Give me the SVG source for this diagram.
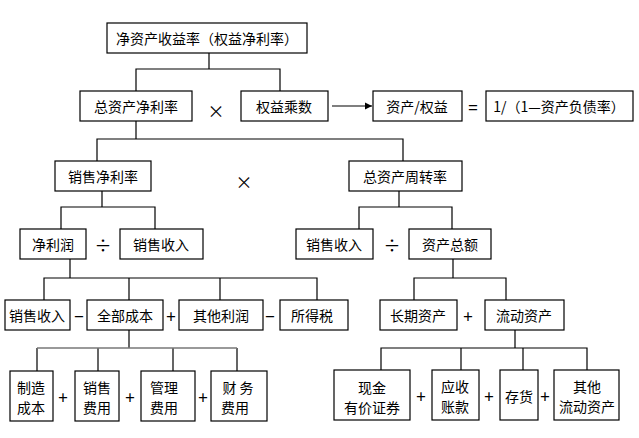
<svg xmlns="http://www.w3.org/2000/svg" width="639" height="438" viewBox="0 0 639 438">
<style>
rect{fill:#fff;stroke:#000;stroke-width:1.2}
text{font-family:"Noto Sans CJK SC","Liberation Sans",sans-serif;font-size:14px;fill:#000;text-anchor:middle;dominant-baseline:central}
.op{font-size:17px}
#c path{fill:none;stroke:#000;stroke-width:1.2}
</style>
<defs><marker id="a" viewBox="0 0 10 10" refX="10" refY="5" markerWidth="6" markerHeight="6" orient="auto"><path d="M0,0L10,5L0,10z"/></marker></defs>
<rect x="0" y="0" width="639" height="438" style="fill:#fff;stroke:none"/>
<g id="c">
<path d="M209 53V69M136 91V69H280V91"/>
<path d="M332 106H372" marker-end="url(#a)"/>
<path d="M136 121V139M97 161V139H403V161"/>
<path d="M102 191V207M61 229V207H155V229"/>
<path d="M399 191V207M359 229V207H452V229"/>
<path d="M70 259V278M44 300V278H317V300M129 278V300M220 278V300"/>
<path d="M453 259V278M414 300V278H506V300"/>
<path d="M129 330V348M37 371V348M98 348V371M173 348V371M237 348V371"/>
<path d="M37 348H237" style="stroke:#777;stroke-width:1.6"/>
<path d="M515 330V348M381 370V348H587V370M461 348V370M523 348V370"/>
</g>
<g id="n1"><rect x="107" y="23" width="200" height="30"/><text x="207" y="38">净资产收益率（权益净利率）</text></g>
<g id="n2"><rect x="80" y="91" width="112" height="30"/><text x="136" y="106">总资产净利率</text></g>
<text class="op" x="216" y="110">×</text>
<g id="n3"><rect x="241" y="91" width="87" height="30"/><text x="284" y="106">权益乘数</text></g>
<g id="n4"><rect x="373" y="91" width="89" height="30"/><text x="417" y="106">资产/权益</text></g>
<text class="op" x="473" y="106">=</text>
<g id="n5"><rect x="486" y="91" width="147" height="30"/><text x="559" y="106">1/（1—资产负债率）</text></g>
<g id="n6"><rect x="55" y="161" width="96" height="30"/><text x="103" y="176">销售净利率</text></g>
<text class="op" x="244" y="181">×</text>
<g id="n7"><rect x="349" y="161" width="113" height="30"/><text x="405" y="176">总资产周转率</text></g>
<g id="n8"><rect x="20" y="229" width="66" height="30"/><text x="53" y="244">净利润</text></g>
<text class="op" x="103" y="244">÷</text>
<g id="n9"><rect x="120" y="229" width="83" height="30"/><text x="161" y="244">销售收入</text></g>
<g id="n10"><rect x="296" y="229" width="77" height="30"/><text x="334" y="244">销售收入</text></g>
<text class="op" x="392" y="244">÷</text>
<g id="n11"><rect x="409" y="229" width="82" height="30"/><text x="450" y="244">资产总额</text></g>
<g id="n12"><rect x="5" y="300" width="65" height="30"/><text x="37" y="315">销售收入</text></g>
<text class="op" x="79" y="315">−</text>
<g id="n13"><rect x="87" y="300" width="76" height="30"/><text x="125" y="315">全部成本</text></g>
<text class="op" x="171" y="315">+</text>
<g id="n14"><rect x="179" y="300" width="84" height="30"/><text x="221" y="315">其他利润</text></g>
<text class="op" x="270" y="315">−</text>
<g id="n15"><rect x="280" y="300" width="68" height="30"/><text x="312" y="315">所得税</text></g>
<g id="n16"><rect x="380" y="300" width="77" height="30"/><text x="418" y="315">长期资产</text></g>
<text class="op" x="468" y="315">+</text>
<g id="n17"><rect x="485" y="300" width="79" height="30"/><text x="524" y="315">流动资产</text></g>
<g id="n18"><rect x="10" y="371" width="43" height="50"/><text x="31" y="387">制造</text><text x="31" y="407">成本</text></g>
<text class="op" x="63" y="396">+</text>
<g id="n19"><rect x="75" y="371" width="44" height="50"/><text x="97" y="387">销售</text><text x="97" y="407">费用</text></g>
<text class="op" x="130" y="396">+</text>
<g id="n20"><rect x="141" y="371" width="54" height="50"/><text x="164" y="387">管理</text><text x="164" y="407">费用</text></g>
<text class="op" x="203" y="396">+</text>
<g id="n21"><rect x="211" y="371" width="56" height="50"/><text x="238" y="387">财 务</text><text x="235" y="407">费用</text></g>
<g id="n22"><rect x="334" y="370" width="76" height="50"/><text x="372" y="387">现金</text><text x="372" y="407">有价证券</text></g>
<text class="op" x="421" y="395">+</text>
<g id="n23"><rect x="432" y="370" width="47" height="50"/><text x="455" y="386">应收</text><text x="455" y="406">账款</text></g>
<text class="op" x="489" y="395">+</text>
<g id="n24"><rect x="500" y="370" width="38" height="50"/><text x="519" y="396">存货</text></g>
<text class="op" x="545" y="395">+</text>
<g id="n25"><rect x="554" y="370" width="65" height="50"/><text x="587" y="386">其他</text><text x="587" y="406">流动资产</text></g>
</svg>
